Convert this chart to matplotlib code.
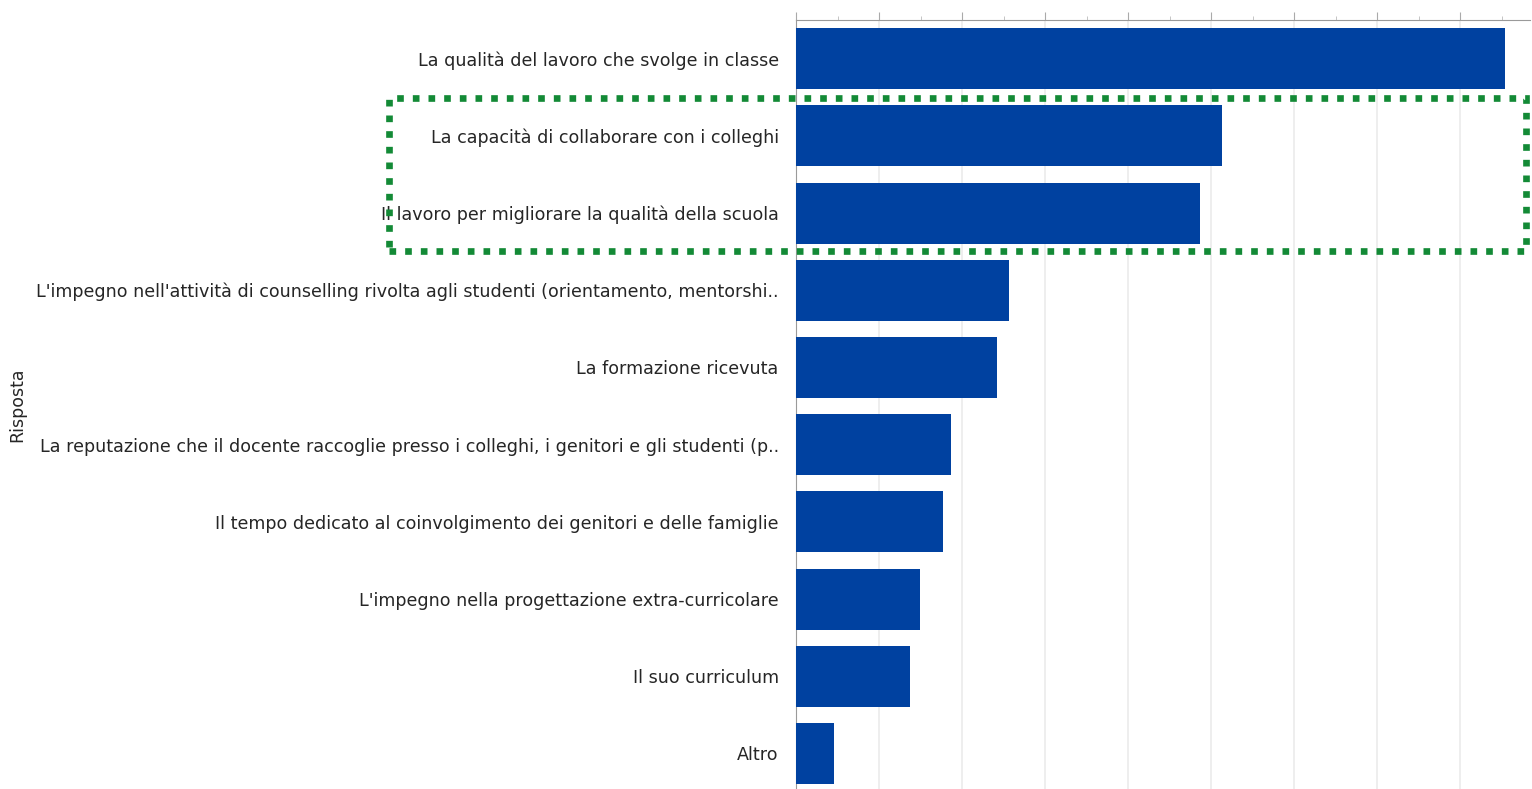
import matplotlib
matplotlib.use("Agg")
import matplotlib.pyplot as plt
import matplotlib.transforms as mtransforms
from matplotlib.patches import Rectangle
from matplotlib.ticker import MultipleLocator

categories = [
    "La qualità del lavoro che svolge in classe",
    "La capacità di collaborare con i colleghi",
    "Il lavoro per migliorare la qualità della scuola",
    "L'impegno nell'attività di counselling rivolta agli studenti (orientamento, mentorshi..",
    "La formazione ricevuta",
    "La reputazione che il docente raccoglie presso i colleghi, i genitori e gli studenti (p..",
    "Il tempo dedicato al coinvolgimento dei genitori e delle famiglie",
    "L'impegno nella progettazione extra-curricolare",
    "Il suo curriculum",
    "Altro",
]
values = [85.4, 51.3, 48.7, 25.7, 24.2, 18.7, 17.7, 14.9, 13.7, 4.6]
y_label = "Risposta"

W, H = 1532, 789
fig = plt.figure(figsize=(W / 100, H / 100), dpi=100)
ax = fig.add_axes([796 / W, 0, (1530 - 796) / W, (789 - 20) / H])

ypos = list(range(len(categories)))
ax.barh(ypos, values, height=0.79, color="#0041A0", zorder=3)
ax.set_yticks(ypos)
ax.set_yticklabels(categories, fontsize=12.6, color="#262626", family="DejaVu Sans")
shift = mtransforms.ScaledTranslation(0, 2.5 / 100, fig.dpi_scale_trans)
for lbl in ax.get_yticklabels():
    lbl.set_transform(lbl.get_transform() + shift)
ax.set_ylim(len(categories) - 0.54, -0.5)
ax.set_xlim(0, (1530 - 796) / 83 * 10)

ax.tick_params(axis="y", length=0, pad=12.5)
ax.xaxis.set_ticks_position("top")
ax.xaxis.set_major_locator(MultipleLocator(10))
ax.xaxis.set_minor_locator(MultipleLocator(5))
ax.tick_params(axis="x", which="major", length=6, color="#aaaaaa", labeltop=False, labelbottom=False)
ax.tick_params(axis="x", which="minor", length=3, color="#bbbbbb")
ax.grid(axis="x", which="major", color="#ebebeb", linewidth=1.2, zorder=0)

for s in ["right", "bottom"]:
    ax.spines[s].set_visible(False)
ax.spines["top"].set_color("#9a9a9a")
ax.spines["left"].set_color("#9a9a9a")

fig.text(17 / W, 1 - 405 / H, y_label, rotation=90, ha="center", va="center",
         fontsize=12.5, color="#262626", family="DejaVu Sans")

rect = Rectangle((389 / W, 1 - 251 / H), (1526 - 389) / W, (251 - 98) / H,
                 transform=fig.transFigure, fill=False, edgecolor="#138A36",
                 linewidth=4.8, linestyle=(0, (1.0, 1.35)), zorder=10)
fig.patches.append(rect)

fig.savefig("out.png", dpi=100)
